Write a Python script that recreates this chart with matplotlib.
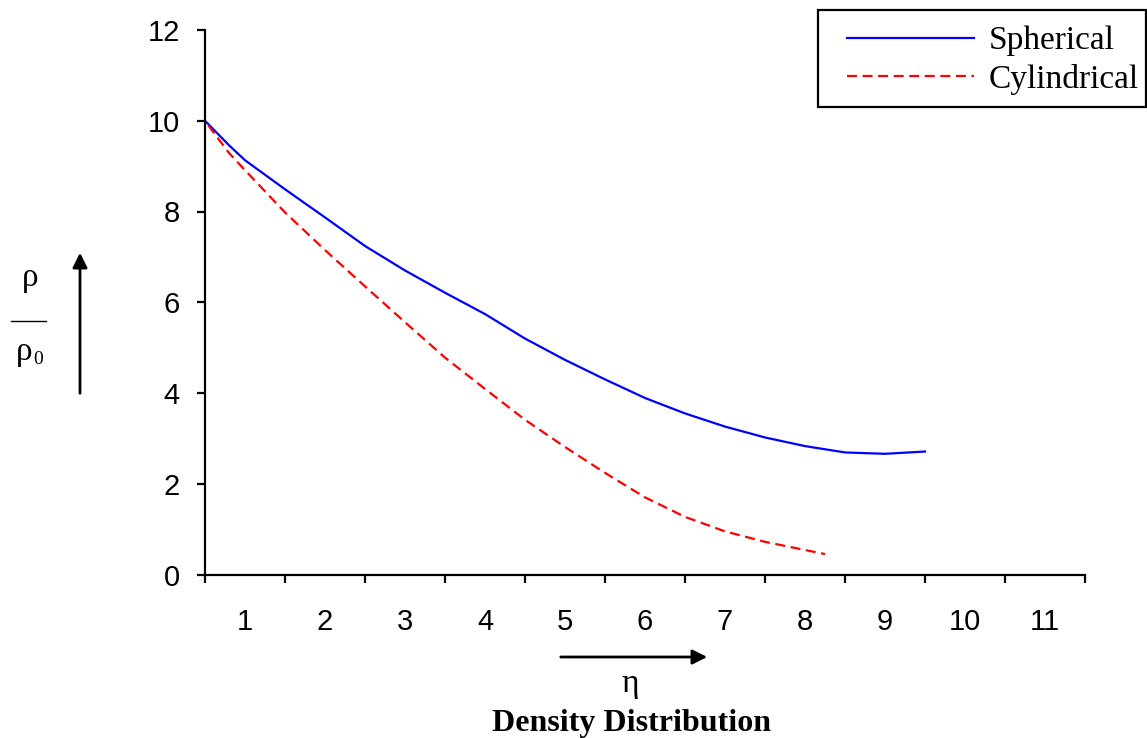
import numpy as np
import matplotlib.pyplot as plt
from matplotlib.lines import Line2D
from matplotlib.patches import FancyArrowPatch, Rectangle

# valeurs
eta_sph = [0.5, 0.8, 1.0, 1.5, 2.0, 2.5, 3.0, 3.5, 4.0, 4.5, 5.0, 5.5, 6.0, 6.5, 7.0, 7.5, 8.0, 8.5, 9.0, 9.5]
rho_sph = [10.0, 9.46, 9.13, 8.49, 7.87, 7.24, 6.70, 6.21, 5.74, 5.20, 4.73, 4.30, 3.89, 3.55, 3.26, 3.02, 2.83, 2.69, 2.66, 2.71]

eta_cyl = [0.54, 0.8, 1.0, 1.5, 2.0, 2.5, 3.0, 3.5, 4.0, 4.5, 5.0, 5.5, 6.0, 6.5, 7.0, 7.5, 8.0, 8.25]
rho_cyl = [9.9, 9.29, 8.91, 7.98, 7.15, 6.35, 5.56, 4.78, 4.09, 3.41, 2.81, 2.24, 1.70, 1.27, 0.95, 0.72, 0.54, 0.45]

x_labels = [str(i) for i in range(1, 12)]

W, H = 1147, 738
fx = lambda px: px / W
fy = lambda py: 1 - py / H

fig = plt.figure(figsize=(W / 100, H / 100), dpi=100)
ax = fig.add_axes([fx(205), fy(574.5), 880 / W, 544.5 / H])

l1, = ax.plot(eta_sph, rho_sph, color="blue", lw=1.6)
l2, = ax.plot(eta_cyl, rho_cyl, color="red", lw=1.6, ls=(0, (4.5, 2.5)))

ax.set_xlim(0.5, 11.5)
ax.set_ylim(0, 12)
ax.set_xticks(np.arange(0.5, 12, 1))
ax.set_xticklabels([])
ax.set_xticks(range(1, 12), minor=True)
ax.set_xticklabels(x_labels, minor=True)
ax.set_yticks(range(0, 13, 2))

for s in ["top", "right"]:
    ax.spines[s].set_visible(False)
for s in ["left", "bottom"]:
    ax.spines[s].set_linewidth(1.6)

ax.tick_params(axis="both", which="major", direction="out", length=6, width=1.6,
               labelsize=21, colors="black")
ax.tick_params(axis="y", pad=12)
ax.tick_params(axis="x", which="minor", length=0, pad=24, labelsize=21)
for lab in ax.get_xticklabels(minor=True) + ax.get_yticklabels():
    lab.set_family("Liberation Sans")

# légende : cadre dessiné à part
fig.add_artist(Rectangle((fx(818), fy(107)), (1146 - 818) / W, 97 / H,
                         transform=fig.transFigure, fill=False, lw=1.6, ec="black"))
fig.legend([l1, l2], ["Spherical", "Cylindrical"], loc="upper left",
           bbox_to_anchor=(fx(847), fy(26)), frameon=False,
           prop={"family": "Liberation Serif", "size": 24},
           handlelength=3.8, handletextpad=0.45, borderpad=0,
           labelspacing=0.22, borderaxespad=0)

# label vertical rho / rho0
fig.text(fx(30), fy(278), "ρ", ha="center", va="center", fontsize=24, family="Liberation Serif")
fig.add_artist(Line2D([fx(11), fx(46)], [fy(321), fy(321)], color="black", lw=1))
fig.text(fx(24), fy(352), "ρ", ha="center", va="center", fontsize=24, family="Liberation Serif")
fig.text(fx(38), fy(360), "0", ha="center", va="center", fontsize=14, family="Liberation Serif")
fig.add_artist(FancyArrowPatch((fx(80), fy(396)), (fx(80), fy(250)), transform=fig.transFigure,
                               arrowstyle="-|>", mutation_scale=22, lw=2, color="black"))

# eta et titre
fig.add_artist(FancyArrowPatch((fx(558), fy(657)), (fx(710), fy(657)), transform=fig.transFigure,
                               arrowstyle="-|>", mutation_scale=22, lw=2, color="black"))
fig.text(fx(630), fy(684), "η", ha="center", va="center", fontsize=24, family="Liberation Serif")
fig.text(fx(631), fy(723), "Density Distribution", ha="center", va="center",
         fontsize=23, fontweight="bold", family="Liberation Serif")

fig.savefig("out.png", dpi=100)
